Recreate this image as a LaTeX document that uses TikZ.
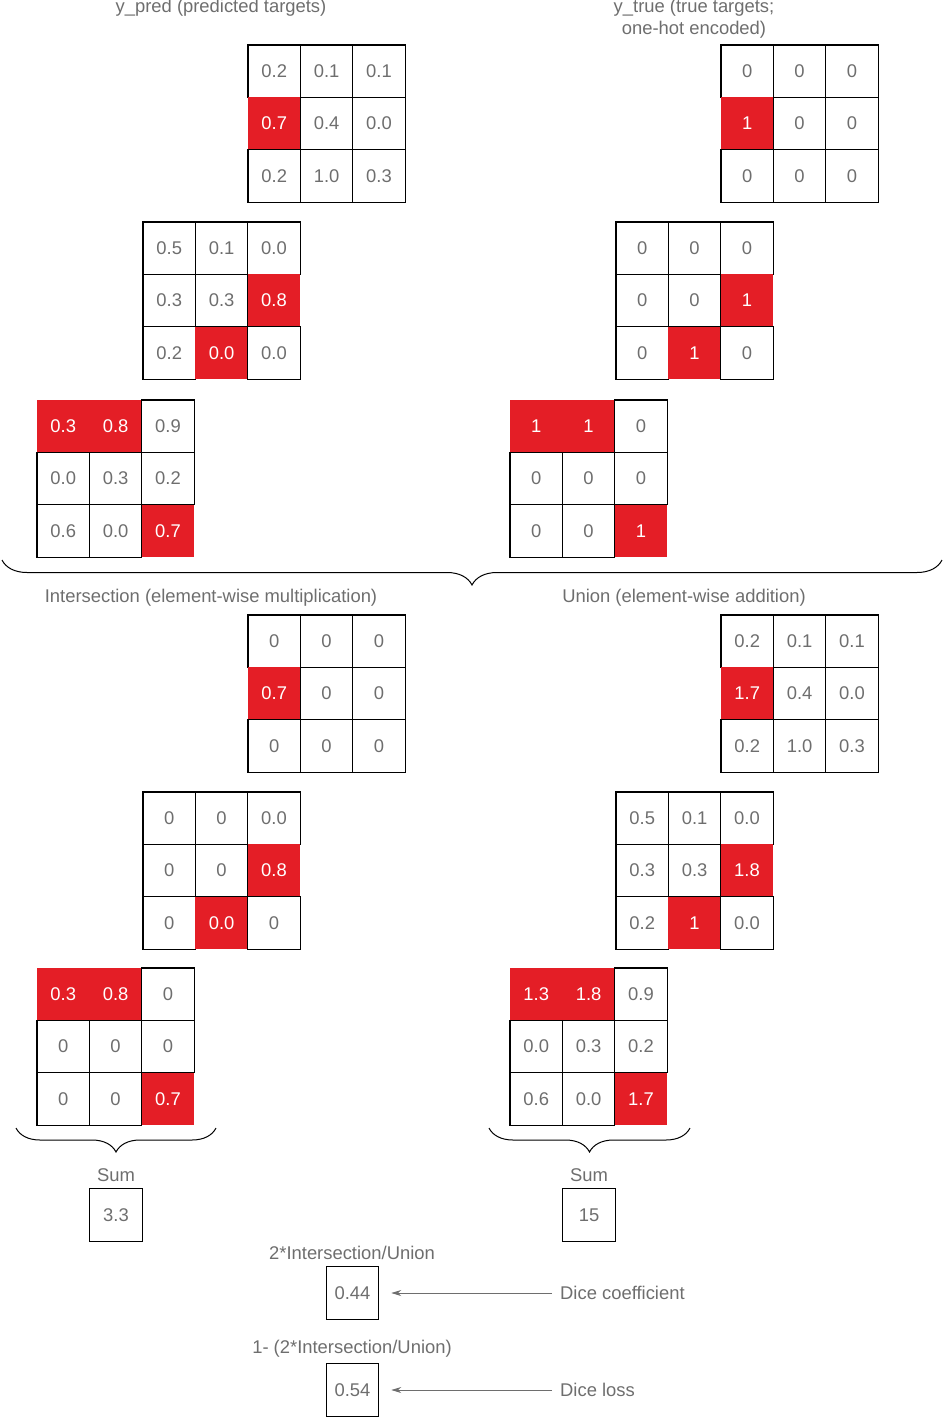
\documentclass[tikz,border=0pt]{standalone}
\usepackage{fontspec}
\setmainfont{Liberation Sans}
\usepackage{xcolor}
\usepackage{tikz}
\usetikzlibrary{positioning,arrows.meta,decorations.pathreplacing}

\definecolor{dicered}{HTML}{E41E26}
\definecolor{labelgrey}{HTML}{6E6E6E}

\tikzset{
	cell/.style={draw=black, line width=1.1pt, minimum size=52.4pt, inner sep=0pt, text=labelgrey},
	lo/.style={},
	hi/.style={fill=dicered, draw=none, text=white},
	valbox/.style={draw=black, line width=1.1pt, minimum size=52.4pt, inner sep=0pt, text=labelgrey},
	lbl/.style={text=labelgrey, inner sep=2pt, align=center},
	brc/.style={decorate, decoration={brace, mirror, amplitude=#1}, line width=1pt},
	ptr/.style={-{Stealth[length=10pt,width=6pt]}, draw=labelgrey, line width=0.8pt, shorten >=12pt, shorten <=6pt}
}

% 3x3 grid: name, top-left x, top-left y, list of value/style
\newcommand{\mgrid}[4]{%
	\foreach \v/\h [count=\i from 0] in {#4} {
		\pgfmathtruncatemacro{\r}{floor(\i/3)}
		\pgfmathtruncatemacro{\c}{mod(\i,3)}
		\node[cell,\h] (#1-\i) at ({#2+(\c+0.5)*52.4},{#3+(\r+0.5)*52.4}) {\v};
	}
}

\begin{document}
\begin{tikzpicture}[x=1pt, y=-1pt, font=\fontsize{18.4}{22}\selectfont]
		\useasboundingbox (0,0) rectangle (944,1419);

		% inputs
		\node[lbl] (predlbl) at (221,8) {y\_pred (predicted targets)};
		\node[lbl] (truelbl) at (694,19) {y\_true (true targets;\\one-hot encoded)};

		\mgrid{p1}{248}{45}{0.2/lo,0.1/lo,0.1/lo,0.7/hi,0.4/lo,0.0/lo,0.2/lo,1.0/lo,0.3/lo}
		\mgrid{p2}{143}{222}{0.5/lo,0.1/lo,0.0/lo,0.3/lo,0.3/lo,0.8/hi,0.2/lo,0.0/hi,0.0/lo}
		\mgrid{p3}{37}{400}{0.3/hi,0.8/hi,0.9/lo,0.0/lo,0.3/lo,0.2/lo,0.6/lo,0.0/lo,0.7/hi}

		\mgrid{t1}{721}{45}{0/lo,0/lo,0/lo,1/hi,0/lo,0/lo,0/lo,0/lo,0/lo}
		\mgrid{t2}{616}{222}{0/lo,0/lo,0/lo,0/lo,0/lo,1/hi,0/lo,1/hi,0/lo}
		\mgrid{t3}{510}{400}{1/hi,1/hi,0/lo,0/lo,0/lo,0/lo,0/lo,0/lo,1/hi}

		\draw[brc=25pt] (2,560) -- (942,560);

		% intersection and union
		\node[lbl] (interlbl) at (211,598) {Intersection (element-wise multiplication)};
		\node[lbl] (unionlbl) at (684,598) {Union (element-wise addition)};

		\mgrid{i1}{248}{615}{0/lo,0/lo,0/lo,0.7/hi,0/lo,0/lo,0/lo,0/lo,0/lo}
		\mgrid{i2}{143}{792}{0/lo,0/lo,0.0/lo,0/lo,0/lo,0.8/hi,0/lo,0.0/hi,0/lo}
		\mgrid{i3}{37}{968}{0.3/hi,0.8/hi,0/lo,0/lo,0/lo,0/lo,0/lo,0/lo,0.7/hi}

		\mgrid{u1}{721}{615}{0.2/lo,0.1/lo,0.1/lo,1.7/hi,0.4/lo,0.0/lo,0.2/lo,1.0/lo,0.3/lo}
		\mgrid{u2}{616}{792}{0.5/lo,0.1/lo,0.0/lo,0.3/lo,0.3/lo,1.8/hi,0.2/lo,1/hi,0.0/lo}
		\mgrid{u3}{510}{968}{1.3/hi,1.8/hi,0.9/lo,0.0/lo,0.3/lo,0.2/lo,0.6/lo,0.0/lo,1.7/hi}

		\draw[brc=24pt] (16,1128) -- (216,1128);
		\draw[brc=24pt] (489,1128) -- (690,1128);

		% sums
		\node[lbl] (suml) at (116,1175) {Sum};
		\node[valbox] (sumlbox) at (116,1215) {3.3};
		\node[lbl] (sumr) at (589,1175) {Sum};
		\node[valbox] (sumrbox) at (589,1215) {15};

		% dice
		\node[lbl] (dicelbl) at (352,1253) {2*Intersection/Union};
		\node[valbox] (dicebox) at (352.5,1293) {0.44};
		\node[lbl, anchor=west] (coeftxt) at (558,1293) {Dice coefficient};
		\node[lbl] (losslbl) at (352,1349) {1- (2*Intersection/Union)};
		\node[valbox] (lossbox) at (352.5,1390) {0.54};
		\node[lbl, anchor=west] (losstxt) at (558,1390) {Dice loss};

		\draw[ptr] (coeftxt.west) -- (dicebox.east |- coeftxt.west);
		\draw[ptr] (losstxt.west) -- (lossbox.east |- losstxt.west);
	\end{tikzpicture}
\end{document}
